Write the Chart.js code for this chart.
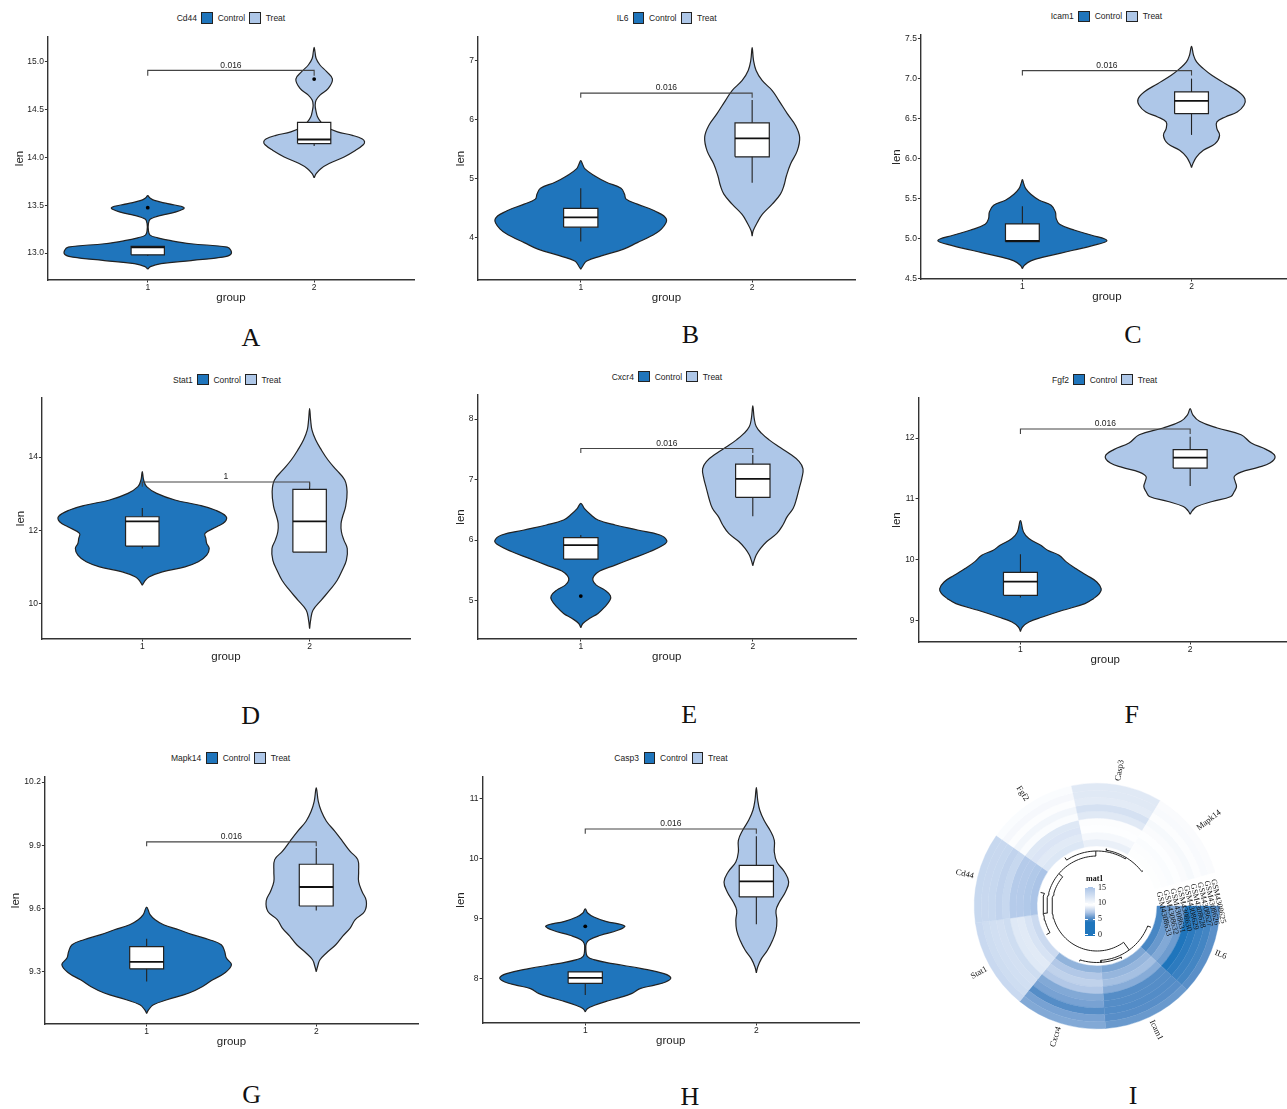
<!DOCTYPE html>
<html>
<head>
<meta charset="utf-8">
<title>Violin plots and circular heatmap</title>
<script src="https://cdn.jsdelivr.net/npm/chart.js@4"></script>
<style>
  html, body { margin: 0; background: #fff; }
  #page { position: relative; width: 1287px; height: 1109px; overflow: hidden; font-family: "Liberation Sans", Arial, sans-serif; color: #222; }
  canvas { position: absolute; }
  .txt { position: absolute; white-space: nowrap; font-size: 8.5px; line-height: 12px; }
  .swatch { position: absolute; box-sizing: border-box; width: 11.5px; height: 11.5px; border: 1.2px solid #222; }
  .letter { position: absolute; transform: translate(-50%, -50%); font: 26px "Liberation Serif", serif; color: #111; }
  .serif { font-family: "Liberation Serif", serif; color: #111; }
</style>
</head>
<body>
<div id="page"></div>
<script>
const groupNames = ["Control", "Treat"];
const controlColor = "#1f75bc";
const treatColor = "#aec7e8";

// Cd44
const cd44Ticks = ["13.0", "13.5", "14.0", "14.5", "15.0"];
const cd44CtrlLen = [12.833, 12.86, 12.89, 12.923, 12.958, 12.986, 13.028, 13.063, 13.098, 13.13, 13.16, 13.188, 13.237, 13.307, 13.355, 13.394, 13.43, 13.474, 13.516, 13.55, 13.578, 13.6];
const cd44CtrlWidth = [0, .016, .08, .26, .45, .498, .5, .478, .26, .14, .06, .014, .004, .004, .016, .08, .17, .218, .12, .04, .012, 0];
const cd44TreatLen = [13.787, 13.829, 13.881, 13.934, 14.003, 14.073, 14.13, 14.16, 14.19, 14.228, 14.265, 14.317, 14.369, 14.422, 14.474, 14.543, 14.596, 14.648, 14.718, 14.815, 14.892, 14.962, 15.03, 15.1, 15.146];
const cd44TreatWidth = [0, .012, .04, .09, .18, .25, .295, .303, .29, .23, .14, .07, .04, .02, .012, .006, .012, .035, .085, .11, .075, .035, .012, .005, 0];
const cd44CtrlBox = [12.97, 12.983, 13.06, 13.07, 13.07];
const cd44TreatBox = [14.118, 14.143, 14.185, 14.363, 14.363];
const cd44Outliers = [[1, 13.474], [2, 14.815]];

// IL6
const il6Ticks = ["4", "5", "6", "7"];
const il6CtrlLen = [3.47, 3.525, 3.61, 3.695, 3.81, 3.92, 4.03, 4.147, 4.316, 4.458, 4.57, 4.655, 4.74, 4.84, 4.94, 5.05, 5.165, 5.25, 5.305];
const il6CtrlWidth = [0, .012, .035, .12, .25, .33, .41, .47, .5, .43, .33, .265, .255, .235, .15, .08, .025, .01, 0];
const il6TreatLen = [4.03, 4.12, 4.26, 4.4, 4.57, 4.74, 4.88, 5.05, 5.25, 5.47, 5.7, 5.9, 6.1, 6.32, 6.49, 6.66, 6.83, 7.0, 7.215];
const il6TreatWidth = [0, .006, .03, .06, .117, .165, .185, .2, .224, .263, .277, .253, .205, .156, .117, .058, .023, .008, 0];
const il6CtrlBox = [3.94, 4.18, 4.345, 4.497, 4.84];
const il6TreatBox = [4.93, 5.37, 5.68, 5.945, 6.33];
const il6Outliers = [];

// Icam1
const icam1Ticks = ["4.5", "5.0", "5.5", "6.0", "6.5", "7.0", "7.5"];
const icam1CtrlLen = [4.62, 4.663, 4.717, 4.767, 4.85, 4.912, 4.971, 5.038, 5.1, 5.175, 5.246, 5.329, 5.412, 5.475, 5.55, 5.62, 5.683, 5.733];
const icam1CtrlWidth = [0, .012, .05, .13, .3, .42, .5, .41, .31, .22, .2, .195, .17, .1, .05, .02, .008, 0];
const icam1TreatLen = [5.883, 5.933, 6.017, 6.1, 6.183, 6.287, 6.371, 6.454, 6.517, 6.579, 6.663, 6.742, 6.829, 6.933, 7.038, 7.121, 7.204, 7.288, 7.4];
const icam1TreatWidth = [0, .008, .03, .07, .14, .166, .15, .15, .2, .27, .31, .316, .28, .2, .12, .07, .03, .012, 0];
const icam1CtrlBox = [4.958, 4.958, 4.967, 5.18, 5.4];
const icam1TreatBox = [6.292, 6.558, 6.717, 6.829, 6.996];
const icam1Outliers = [];

// Stat1
const stat1Ticks = ["10", "12", "14"];
const stat1CtrlLen = [10.506, 10.6, 10.73, 10.87, 11.007, 11.144, 11.326, 11.508, 11.645, 11.78, 11.918, 12.1, 12.237, 12.383, 12.556, 12.692, 12.83, 13.01, 13.193, 13.375, 13.603];
const stat1CtrlWidth = [0, .012, .04, .12, .255, .335, .385, .4, .385, .38, .375, .445, .494, .5, .434, .335, .195, .086, .026, .008, 0];
const stat1TreatLen = [9.322, 9.55, 9.823, 10.1, 10.37, 10.643, 10.916, 11.19, 11.508, 11.736, 11.964, 12.19, 12.373, 12.647, 13.056, 13.375, 13.648, 13.92, 14.195, 14.47, 14.74, 15.015, 15.324];
const stat1TreatWidth = [0, .006, .02, .07, .12, .165, .195, .22, .225, .205, .19, .188, .197, .215, .224, .21, .16, .11, .07, .036, .014, .006, 0];
const stat1CtrlBox = [11.508, 11.572, 12.246, 12.373, 12.61];
const stat1TreatBox = [11.408, 11.408, 12.246, 13.12, 13.3];
const stat1Outliers = [];

// Cxcr4
const cxcr4Ticks = ["5", "6", "7", "8"];
const cxcr4CtrlLen = [4.549, 4.62, 4.703, 4.786, 4.896, 5.007, 5.08, 5.172, 5.255, 5.338, 5.41, 5.487, 5.586, 5.696, 5.807, 5.917, 5.989, 6.083, 6.166, 6.248, 6.33, 6.414, 6.524, 6.607];
const cxcr4CtrlWidth = [0, .012, .05, .1, .14, .17, .172, .14, .09, .07, .078, .11, .2, .3, .4, .48, .5, .46, .33, .2, .1, .06, .02, 0];
const cxcr4TreatLen = [5.575, 5.641, 5.752, 5.862, 5.972, 6.11, 6.248, 6.386, 6.524, 6.69, 6.855, 7.02, 7.176, 7.297, 7.435, 7.545, 7.655, 7.766, 7.876, 8.014, 8.218];
const cxcr4TreatWidth = [0, .006, .02, .045, .08, .14, .175, .2, .235, .255, .27, .285, .292, .27, .21, .15, .095, .05, .02, .008, 0];
const cxcr4CtrlBox = [5.685, 5.685, 5.917, 6.039, 6.083];
const cxcr4TreatBox = [6.392, 6.706, 7.01, 7.253, 7.407];
const cxcr4Outliers = [[1, 5.073]];

// Fgf2
const fgf2Ticks = ["9", "10", "11", "12"];
const fgf2CtrlLen = [8.817, 8.889, 8.971, 9.054, 9.164, 9.274, 9.356, 9.439, 9.516, 9.631, 9.741, 9.851, 9.961, 10.07, 10.153, 10.235, 10.345, 10.455, 10.64];
const fgf2CtrlWidth = [0, .012, .05, .13, .25, .38, .43, .465, .476, .45, .39, .326, .27, .228, .16, .12, .05, .018, 0];
const fgf2TreatLen = [10.747, 10.802, 10.873, 10.956, 11.039, 11.12, 11.2, 11.286, 11.368, 11.44, 11.517, 11.589, 11.7, 11.81, 11.919, 12.056, 12.166, 12.276, 12.386, 12.485];
const fgf2TreatWidth = [0, .012, .04, .13, .24, .26, .273, .265, .26, .3, .4, .47, .5, .45, .36, .3, .16, .055, .015, 0];
const fgf2CtrlBox = [9.373, 9.411, 9.637, 9.79, 10.088];
const fgf2TreatBox = [11.21, 11.506, 11.677, 11.809, 12.023];
const fgf2Outliers = [];

// Mapk14
const mapk14Ticks = ["9.3", "9.6", "9.9", "10.2"];
const mapk14CtrlLen = [9.102, 9.12, 9.143, 9.167, 9.199, 9.23, 9.262, 9.294, 9.333, 9.365, 9.396, 9.428, 9.452, 9.476, 9.499, 9.523, 9.547, 9.571, 9.607];
const mapk14CtrlWidth = [0, .012, .04, .12, .25, .33, .39, .46, .5, .47, .46, .44, .37, .27, .19, .1, .05, .02, 0];
const mapk14TreatLen = [9.3, 9.325, 9.357, 9.389, 9.428, 9.468, 9.507, 9.547, 9.586, 9.637, 9.681, 9.728, 9.776, 9.832, 9.871, 9.919, 9.966, 10.014, 10.061, 10.108, 10.172];
const mapk14TreatWidth = [0, .008, .022, .06, .115, .155, .2, .23, .285, .295, .27, .25, .25, .245, .2, .155, .11, .06, .03, .012, 0];
const mapk14CtrlBox = [9.254, 9.314, 9.347, 9.419, 9.457];
const mapk14TreatBox = [9.59, 9.612, 9.702, 9.81, 9.887];
const mapk14Outliers = [];

// Casp3
const casp3Ticks = ["8", "9", "10", "11"];
const casp3CtrlLen = [7.439, 7.494, 7.55, 7.622, 7.678, 7.744, 7.828, 7.883, 7.939, 8.006, 8.078, 8.161, 8.244, 8.311, 8.367, 8.467, 8.578, 8.644, 8.717, 8.8, 8.872, 8.95, 9.022, 9.089, 9.156];
const casp3CtrlWidth = [0, .012, .055, .13, .2, .27, .32, .4, .47, .5, .46, .33, .16, .05, .012, .004, .006, .025, .09, .19, .23, .12, .05, .014, 0];
const casp3TreatLen = [8.089, 8.189, 8.328, 8.467, 8.633, 8.8, 8.967, 9.133, 9.272, 9.439, 9.606, 9.772, 9.939, 10.106, 10.3, 10.467, 10.633, 10.8, 10.967, 11.178];
const casp3TreatWidth = [0, .008, .03, .065, .095, .115, .12, .115, .135, .17, .189, .165, .12, .105, .105, .08, .045, .02, .008, 0];
const casp3CtrlBox = [7.722, 7.917, 8.006, 8.106, 8.106];
const casp3TreatBox = [8.9, 9.356, 9.617, 9.883, 10.367];
const casp3Outliers = [[1, 8.867]];

// circular heatmap: one value per ring, outer ring first
const sampleNames = ["GSM4308625", "GSM4308626", "GSM4308627", "GSM4308628", "GSM4308629", "GSM4308630", "GSM4308631", "GSM4308632", "GSM4308633"];
const heatGenes = ["IL6", "Icam1", "Cxcr4", "Stat1", "Cd44", "Fgf2", "Casp3", "Mapk14"];
const matIL6 = [5.5, 5.0, 4.8, 4.5, 4.2, 5.9, 6.3, 5.8, 5.1];
const matIcam1 = [5.8, 5.45, 5.35, 5.4, 5.4, 6.4, 7.0, 6.7, 6.2];
const matCxcr4 = [6.3, 6.1, 5.4, 6.1, 6.3, 7.3, 7.7, 7.3, 6.6];
const matStat1 = [12.9, 12.6, 12.4, 12.3, 12.6, 11.5, 11.4, 12.0, 12.8];
const matCd44 = [13.05, 13.0, 13.05, 13.45, 13.05, 14.15, 14.2, 14.4, 14.8];
const matFgf2 = [9.8, 10.1, 9.7, 10.3, 9.8, 11.6, 11.8, 11.4, 11.7];
const matCasp3 = [8.6, 8.6, 8.7, 8.3, 8.6, 9.4, 9.6, 9.2, 8.9];
const matMapk14 = [9.35, 9.3, 9.42, 9.25, 9.35, 9.6, 9.8, 9.7, 9.62];
const heatLegendTicks = [0, 5, 10, 15];

// dendrogram merges: [left, right, radius]. 0-7 are leaves, 8+ are earlier merges
const leafRadius = 58;
const dendroMerges = [[6, 7, 56.5], [5, 8, 55], [3, 4, 54], [10, 9, 50], [1, 2, 56.5], [0, 12, 54.5], [13, 11, 45]];

Chart.defaults.font.family = '"Liberation Sans", Arial, sans-serif';
Chart.defaults.color = "#222";
Chart.defaults.animation = false;
Chart.defaults.plugins.legend.display = false;
Chart.defaults.plugins.tooltip.enabled = false;

const page = document.getElementById("page");

function addText(text, left, midY, cls, size) {
  const el = document.createElement("div");
  el.className = "txt " + (cls || "");
  el.textContent = text;
  el.style.left = left + "px";
  el.style.top = (midY - 6) + "px";
  if (size) el.style.fontSize = size + "px";
  page.appendChild(el);
  return el;
}

function addSwatch(left, midY, color) {
  const el = document.createElement("div");
  el.className = "swatch";
  el.style.left = left + "px";
  el.style.top = (midY - 5.75) + "px";
  el.style.background = color;
  page.appendChild(el);
}

function addCanvas(left, top, width, height) {
  const c = document.createElement("canvas");
  c.width = width;
  c.height = height;
  c.style.left = left + "px";
  c.style.top = top + "px";
  page.appendChild(c);
  return c;
}

function violinPath(center, lens, widths) {
  const right = lens.map((y, i) => ({ x: center + widths[i], y }));
  const left = lens.map((y, i) => ({ x: center - widths[i], y })).reverse().slice(1);
  return right.concat(left);
}

// top of the drawing goes first, chart.js paints dataset 0 last
function groupDatasets(center, box, lens, widths, color) {
  const [low, q1, med, q3, high] = box;
  const hw = 0.1;
  return {
    top: [
      { data: [{ x: center - hw, y: med }, { x: center + hw, y: med }], showLine: true, borderColor: "#111", borderWidth: 1.8, pointRadius: 0 },
      { data: [{ x: center - hw, y: q1 }, { x: center + hw, y: q1 }, { x: center + hw, y: q3 }, { x: center - hw, y: q3 }, { x: center - hw, y: q1 }],
        showLine: true, fill: "shape", backgroundColor: "#fff", borderColor: "#222", borderWidth: 1.2, pointRadius: 0 },
      { data: [{ x: center, y: low }, { x: center, y: high }], showLine: true, borderColor: "#222", borderWidth: 1.1, pointRadius: 0 }
    ],
    violin: { data: violinPath(center, lens, widths), showLine: true, fill: "shape", tension: 0.4, backgroundColor: color, borderColor: "#222", borderWidth: 1.2, pointRadius: 0 }
  };
}

const pLabelPlugin = {
  id: "pLabel",
  afterDatasetsDraw(chart, args, opts) {
    const ctx = chart.ctx;
    ctx.save();
    ctx.font = '8.5px "Liberation Sans", Arial, sans-serif';
    ctx.fillStyle = "#222";
    ctx.textAlign = "center";
    ctx.textBaseline = "middle";
    ctx.fillText(opts.text, chart.scales.x.getPixelForValue(1.5), chart.scales.y.getPixelForValue(opts.level) - 5);
    ctx.restore();
  }
};

function drawViolinPanel(p) {
  const plotW = p.unit * 2.2;
  const plotH = p.bottom - p.top;
  const yBox = p.titleGap + 6.9;
  const xBox = 25;
  const padTop = 8;
  const padRight = 4;
  const canvas = addCanvas(p.axis - yBox, p.top - padTop, Math.ceil(yBox + plotW + padRight), Math.ceil(padTop + plotH + xBox));
  const ctrl = groupDatasets(1, p.ctrlBox, p.ctrlLen, p.ctrlWidth, controlColor);
  const treat = groupDatasets(2, p.treatBox, p.treatLen, p.treatWidth, treatColor);
  const bracket = {
    data: [{ x: 1, y: p.tip }, { x: 1, y: p.level }, { x: 2, y: p.level }, { x: 2, y: p.tip }],
    showLine: true, borderColor: "#444", borderWidth: 1.1, pointRadius: 0
  };
  const outliers = {
    data: p.outliers.map(o => ({ x: o[0], y: o[1] })),
    pointRadius: 1.9, pointBackgroundColor: "#000", pointBorderWidth: 0
  };
  new Chart(canvas, {
    type: "scatter",
    data: { datasets: [bracket, outliers, ...ctrl.top, ...treat.top, ctrl.violin, treat.violin] },
    plugins: [pLabelPlugin],
    options: {
      responsive: false,
      events: [],
      layout: { padding: { top: padTop, right: padRight, left: 0, bottom: 0 } },
      plugins: { pLabel: { text: p.pText, level: p.level } },
      scales: {
        x: {
          type: "linear", min: 0.4, max: 2.6,
          afterBuildTicks: s => { s.ticks = [{ value: 1 }, { value: 2 }]; },
          afterFit: s => { s.height = xBox; },
          ticks: { font: { size: 8.5 }, color: "#222", padding: 0, maxRotation: 0, callback: v => String(v) },
          grid: { drawOnChartArea: false, tickLength: 2.5, tickColor: "#333" },
          border: { color: "#333", width: 1.4 },
          title: { display: true, text: "group", font: { size: 11.5 }, color: "#222", padding: 0 }
        },
        y: {
          type: "linear", min: p.yMin, max: p.yMax,
          afterBuildTicks: s => { s.ticks = p.ticks.map(t => ({ value: Number(t) })); },
          afterFit: s => { s.width = yBox; },
          ticks: { font: { size: 8.5 }, color: "#222", padding: 1, autoSkip: false, maxRotation: 0, callback: (v, i) => p.ticks[i] },
          grid: { drawOnChartArea: false, tickLength: 3, tickColor: "#333" },
          border: { color: "#333", width: 1.4 },
          title: { display: true, text: "len", font: { size: 11.5 }, color: "#222", padding: 0 }
        }
      }
    }
  });
  addText(p.gene, p.titleX, p.legendY);
  addSwatch(p.boxX, p.legendY, controlColor);
  addText(groupNames[0], p.boxX + 16.4, p.legendY);
  addSwatch(p.boxX + 48, p.legendY, treatColor);
  addText(groupNames[1], p.boxX + 64.4, p.legendY);
}

const panels = [
  { gene: "Cd44", ticks: cd44Ticks, ctrlLen: cd44CtrlLen, ctrlWidth: cd44CtrlWidth, treatLen: cd44TreatLen, treatWidth: cd44TreatWidth, ctrlBox: cd44CtrlBox, treatBox: cd44TreatBox, outliers: cd44Outliers,
    axis: 48, unit: 166, top: 37, bottom: 279.5, yMin: 12.72, yMax: 15.254, titleGap: 28, titleX: 176.7, boxX: 201.3, legendY: 18, level: 14.906, tip: 14.85, pText: "0.016" },
  { gene: "IL6", ticks: il6Ticks, ctrlLen: il6CtrlLen, ctrlWidth: il6CtrlWidth, treatLen: il6TreatLen, treatWidth: il6TreatWidth, ctrlBox: il6CtrlBox, treatBox: il6TreatBox, outliers: il6Outliers,
    axis: 477.7, unit: 171, top: 36.7, bottom: 279, yMin: 3.288, yMax: 7.395, titleGap: 17, titleX: 616.7, boxX: 632.7, legendY: 18, level: 6.446, tip: 6.37, pText: "0.016" },
  { gene: "Icam1", ticks: icam1Ticks, ctrlLen: icam1CtrlLen, ctrlWidth: icam1CtrlWidth, treatLen: icam1TreatLen, treatWidth: icam1TreatWidth, ctrlBox: icam1CtrlBox, treatBox: icam1TreatBox, outliers: icam1Outliers,
    axis: 920.7, unit: 168.7, top: 35, bottom: 278.7, yMin: 4.491, yMax: 7.541, titleGap: 24, titleX: 1050.7, boxX: 1078.3, legendY: 16.3, level: 7.096, tip: 7.034, pText: "0.016" },
  { gene: "Stat1", ticks: stat1Ticks, ctrlLen: stat1CtrlLen, ctrlWidth: stat1CtrlWidth, treatLen: stat1TreatLen, treatWidth: stat1TreatWidth, ctrlBox: stat1CtrlBox, treatBox: stat1TreatBox, outliers: stat1Outliers,
    axis: 41.7, unit: 167.3, top: 398.3, bottom: 638.7, yMin: 9.04, yMax: 15.61, titleGap: 21, titleX: 173, boxX: 197, legendY: 379.7, level: 13.32, tip: 13.19, pText: "1" },
  { gene: "Cxcr4", ticks: cxcr4Ticks, ctrlLen: cxcr4CtrlLen, ctrlWidth: cxcr4CtrlWidth, treatLen: cxcr4TreatLen, treatWidth: cxcr4TreatWidth, ctrlBox: cxcr4CtrlBox, treatBox: cxcr4TreatBox, outliers: cxcr4Outliers,
    axis: 477.7, unit: 171.7, top: 395, bottom: 638.7, yMin: 4.364, yMax: 8.397, titleGap: 16.7, titleX: 611.7, boxX: 638.3, legendY: 376.7, level: 7.513, tip: 7.44, pText: "0.016" },
  { gene: "Fgf2", ticks: fgf2Ticks, ctrlLen: fgf2CtrlLen, ctrlWidth: fgf2CtrlWidth, treatLen: fgf2TreatLen, treatWidth: fgf2TreatWidth, ctrlBox: fgf2CtrlBox, treatBox: fgf2TreatBox, outliers: fgf2Outliers,
    axis: 918.3, unit: 169.6, top: 398.3, bottom: 641.7, yMin: 8.642, yMax: 12.66, titleGap: 21.7, titleX: 1052, boxX: 1073.3, legendY: 379.7, level: 12.149, tip: 12.066, pText: "0.016" },
  { gene: "Mapk14", ticks: mapk14Ticks, ctrlLen: mapk14CtrlLen, ctrlWidth: mapk14CtrlWidth, treatLen: mapk14TreatLen, treatWidth: mapk14TreatWidth, ctrlBox: mapk14CtrlBox, treatBox: mapk14TreatBox, outliers: mapk14Outliers,
    axis: 45, unit: 169.3, top: 777.3, bottom: 1024.3, yMin: 9.052, yMax: 10.224, titleGap: 29, titleX: 171, boxX: 206.3, legendY: 758, level: 9.916, tip: 9.895, pText: "0.016" },
  { gene: "Casp3", ticks: casp3Ticks, ctrlLen: casp3CtrlLen, ctrlWidth: casp3CtrlWidth, treatLen: casp3TreatLen, treatWidth: casp3TreatWidth, ctrlBox: casp3CtrlBox, treatBox: casp3TreatBox, outliers: casp3Outliers,
    axis: 482.7, unit: 171, top: 776.7, bottom: 1022.7, yMin: 7.255, yMax: 11.355, titleGap: 21.7, titleX: 614.3, boxX: 643.7, legendY: 758, level: 10.488, tip: 10.41, pText: "0.016" }
];
panels.forEach(drawViolinPanel);

const letters = [["A", 251, 338], ["B", 690.5, 335], ["C", 1133, 335], ["D", 250.7, 715.7], ["E", 689.3, 715], ["F", 1131.7, 715], ["G", 251.7, 1095], ["H", 690, 1096.7], ["I", 1133, 1096]];
letters.forEach(l => {
  const el = document.createElement("div");
  el.className = "letter";
  el.textContent = l[0];
  el.style.left = l[1] + "px";
  el.style.top = l[2] + "px";
  page.appendChild(el);
});

// heatmap colour ramp, blue at the low end, white near 9.5, pale blue at 15
const rampStops = [[4.2, [31, 117, 188]], [5.5, [90, 143, 200]], [7.2, [175, 198, 230]], [9.5, [255, 255, 255]], [15, [168, 194, 230]]];
function rampColor(v) {
  if (v <= rampStops[0][0]) return "rgb(" + rampStops[0][1].join(",") + ")";
  for (let i = 1; i < rampStops.length; i++) {
    if (v <= rampStops[i][0]) {
      const a = rampStops[i - 1], b = rampStops[i];
      const t = (v - a[0]) / (b[0] - a[0]);
      return "rgb(" + a[1].map((c, k) => Math.round(c + (b[1][k] - c) * t)).join(",") + ")";
    }
  }
  return "rgb(" + rampStops[rampStops.length - 1][1].join(",") + ")";
}

const heatCx = 1096.5, heatCy = 906, heatR = 123, heatHole = 60;
const gapDeg = 16;
const heatRows = [matIL6, matIcam1, matCxcr4, matStat1, matCd44, matFgf2, matCasp3, matMapk14];

const heatLabelPlugin = {
  id: "heatLabels",
  afterDraw(chart) {
    const ctx = chart.ctx;
    const outer = chart.getDatasetMeta(0).data;
    ctx.save();
    ctx.fillStyle = "#111";
    ctx.textBaseline = "middle";
    ctx.font = '8.5px "Liberation Serif", serif';
    outer.forEach((arc, i) => {
      const mid = (arc.startAngle + arc.endAngle) / 2;
      const r = arc.outerRadius + 4;
      let rot = mid, align = "left";
      if (Math.cos(mid) < 0) { rot = mid + Math.PI; align = "right"; }
      ctx.save();
      ctx.translate(arc.x + r * Math.cos(mid), arc.y + r * Math.sin(mid));
      ctx.rotate(rot);
      ctx.textAlign = align;
      ctx.fillText(heatGenes[i], 0, 0);
      ctx.restore();
    });
    // sample names sit in the gap after the last sector
    const last = outer[outer.length - 1];
    const ang = last.endAngle + 3 * Math.PI / 180;
    ctx.font = '8px "Liberation Serif", serif';
    ctx.textAlign = "left";
    sampleNames.forEach((name, ring) => {
      const a = chart.getDatasetMeta(ring).data[0];
      const r = (a.innerRadius + a.outerRadius) / 2;
      ctx.save();
      ctx.translate(a.x + r * Math.cos(ang), a.y + r * Math.sin(ang));
      ctx.rotate(ang + Math.PI / 2);
      ctx.fillText(name, 0, 0);
      ctx.restore();
    });
    ctx.restore();
  }
};

const heatSize = 320;
const heatCanvas = addCanvas(heatCx - heatSize / 2, heatCy - heatSize / 2, heatSize, heatSize);
new Chart(heatCanvas, {
  type: "doughnut",
  data: {
    labels: heatGenes,
    datasets: sampleNames.map((name, ring) => {
      const colors = heatRows.map(row => rampColor(row[ring]));
      return { label: name, data: heatRows.map(() => 1), backgroundColor: colors, borderColor: colors, borderWidth: 0.4 };
    })
  },
  plugins: [heatLabelPlugin],
  options: {
    responsive: false,
    events: [],
    rotation: 90,
    circumference: 360 - gapDeg,
    cutout: heatHole,
    layout: { padding: heatSize / 2 - heatR }
  }
});

// dendrogram in the hole of the heatmap, polar positions turned into x/y
function polar(angleDeg, r) {
  const a = angleDeg * Math.PI / 180;
  return { x: r * Math.cos(a), y: -r * Math.sin(a) };
}
const sectorDeg = (360 - gapDeg) / heatGenes.length;
const nodes = heatGenes.map((g, i) => ({ angle: (i + 0.5) * sectorDeg, r: leafRadius }));
const dendroSets = dendroMerges.map(m => {
  const a = nodes[m[0]], b = nodes[m[1]];
  const pts = [polar(a.angle, a.r)];
  const steps = Math.ceil(Math.abs(b.angle - a.angle) / 3);
  for (let s = 0; s <= steps; s++) pts.push(polar(a.angle + (b.angle - a.angle) * s / steps, m[2]));
  pts.push(polar(b.angle, b.r));
  nodes.push({ angle: (a.angle + b.angle) / 2, r: m[2] });
  return { data: pts, showLine: true, borderColor: "#222", borderWidth: 1, pointRadius: 0 };
});
const dendroSize = 140;
new Chart(addCanvas(heatCx - dendroSize / 2, heatCy - dendroSize / 2, dendroSize, dendroSize), {
  type: "scatter",
  data: { datasets: dendroSets },
  options: {
    responsive: false,
    events: [],
    scales: {
      x: { type: "linear", min: -dendroSize / 2, max: dendroSize / 2, display: false },
      y: { type: "linear", min: -dendroSize / 2, max: dendroSize / 2, display: false }
    }
  }
});

// heatmap colour legend
const barLeft = 1085, barW = 10, barBottom = 935.5, barTop = 887;
const bar = document.createElement("div");
bar.style.cssText = "position:absolute;left:" + barLeft + "px;top:" + barTop + "px;width:" + barW + "px;height:" + (barBottom - barTop) + "px;";
const stopCss = rampStops.map(s => "rgb(" + s[1].join(",") + ") " + (s[0] / 15 * 100).toFixed(1) + "%");
bar.style.background = "linear-gradient(to top, " + stopCss.join(", ") + ")";
page.appendChild(bar);
addText("mat1", barLeft + 1, 879, "serif", 8).style.fontWeight = "bold";
heatLegendTicks.forEach(v => {
  const y = barBottom - 0.8 - v / 15 * (barBottom - barTop - 1.6);
  addText(String(v), barLeft + 13, y, "serif", 8);
  [0, barW - 2.5].forEach(off => {
    const t = document.createElement("div");
    t.style.cssText = "position:absolute;background:#fff;height:1px;width:2.5px;left:" + (barLeft + off) + "px;top:" + (y - 0.5) + "px;";
    page.appendChild(t);
  });
});
</script>
</body>
</html>
